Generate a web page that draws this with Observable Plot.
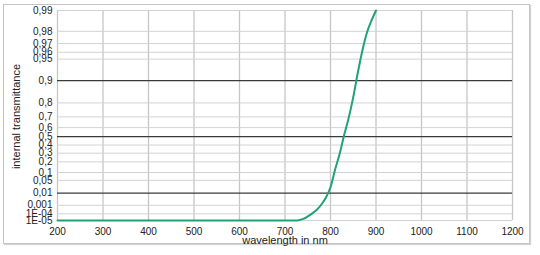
<!DOCTYPE html>
<html><head><meta charset="utf-8">
<script src="https://cdn.jsdelivr.net/npm/d3@7"></script>
<script src="https://cdn.jsdelivr.net/npm/@observablehq/plot@0.6"></script>
<style>
html,body{margin:0;padding:0;background:#fff;}
#wrap{position:relative;width:540px;height:255px;}
#frame{position:absolute;left:3px;top:4px;width:525px;height:238px;border:1px solid #c4c4c4;box-shadow:1px 1px 1px #d4d4d4;}
#chart{position:absolute;left:0;top:0;}
</style></head><body>
<div id="wrap"><div id="frame"></div><div id="chart"></div></div>
<script>
const wavelength = [200, 300, 400, 500, 600, 700, 725, 730, 740, 750, 760, 770, 780, 790, 800, 810, 820, 830, 840, 850, 860, 870, 880, 890, 900];
const transmittance = [1e-5, 1e-5, 1e-5, 1e-5, 1e-5, 1e-5, 1e-5, 1.1e-5, 1.8e-5, 4.4e-5, 1.15e-4, 3.3e-4, 1.2e-3, 4.9e-3, 0.023, 0.122, 0.29, 0.519, 0.692, 0.832, 0.922, 0.962, 0.979, 0.986, 0.99];
const tickValues = [0.99, 0.98, 0.97, 0.96, 0.95, 0.9, 0.8, 0.7, 0.6, 0.5, 0.4, 0.3, 0.2, 0.1, 0.05, 0.01, 0.001, 1e-4, 1e-5];
const tickLabels = ["0,99", "0,98", "0,97", "0,96", "0,95", "0,9", "0,8", "0,7", "0,6", "0,5", "0,4", "0,3", "0,2", "0,1", "0,05", "0,01", "0,001", "1E-04", "1E-05"];
const majorTicks = [0.9, 0.5, 0.01];
const xTicks = [200, 300, 400, 500, 600, 700, 800, 900, 1000, 1100, 1200];

// ordinate scale: -log10(log10(1/T))
const h = T => -Math.log10(-Math.log10(T));
const data = wavelength.map((w, i) => ({w, t: transmittance[i]}));
const yTicks = tickValues.map(h);
const labelOf = v => {
  let best = 0, bd = Infinity;
  yTicks.forEach((t, i) => { const d = Math.abs(t - v); if (d < bd) { bd = d; best = i; } });
  return tickLabels[best];
};
const minorTicks = tickValues.filter(t => !majorTicks.includes(t));

const chart = Plot.plot({
  width: 540, height: 255,
  marginLeft: 57, marginRight: 28, marginTop: 10, marginBottom: 35,
  style: {fontFamily: "'Liberation Sans', Arial, sans-serif", fontSize: "10px", color: "#222", background: "transparent"},
  x: {domain: [200, 1200]},
  y: {domain: [h(1e-5), h(0.99)]},
  marks: [
    Plot.ruleX(xTicks, {stroke: "#c6c6c6", strokeWidth: 1.3}),
    Plot.ruleY(minorTicks, {y: h, stroke: "#d2d2d2", strokeWidth: 1}),
    Plot.ruleY(majorTicks, {y: h, stroke: "#3a3a3a", strokeWidth: 1.3}),
    Plot.axisX({ticks: xTicks, tickSize: 0, tickPadding: 7, tickFormat: d => String(d), label: null}),
    Plot.axisY({ticks: yTicks, tickSize: 0, tickPadding: 5, tickFormat: labelOf, label: null}),
    Plot.line(data, {x: "w", y: d => h(d.t), stroke: "#1fa277", strokeWidth: 2, curve: "monotone-x"}),
    Plot.text(["wavelength in nm"], {frameAnchor: "bottom", lineAnchor: "middle", dy: 20, fontSize: 11, fill: "#222"}),
    Plot.text(["internal transmittance"], {frameAnchor: "left", textAnchor: "middle", lineAnchor: "middle", dx: -41, dy: 1, rotate: -90, fontSize: 11, fill: "#222"})
  ]
});
document.getElementById("chart").appendChild(chart);
</script>
</body></html>
